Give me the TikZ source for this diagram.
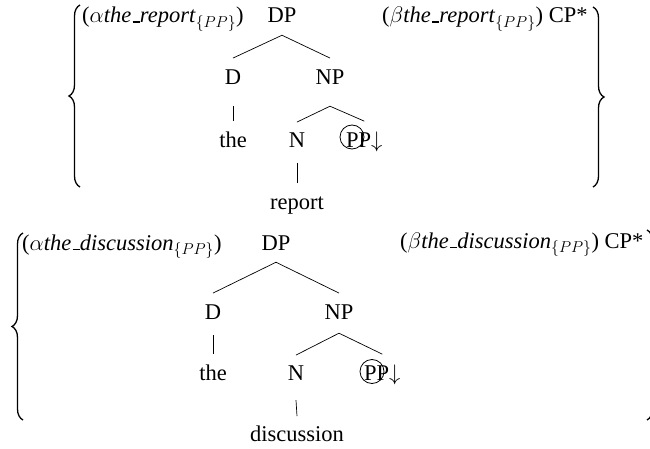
\documentclass[tikz,border=0pt]{standalone}
\usepackage{fix-cm}
\usepackage{fontspec}
\setmainfont{Liberation Serif}
\usetikzlibrary{calc,decorations.pathreplacing}
\newcommand\ubar{\kern.06em\vbox{\hrule width .32em height 1.5pt}}
\begin{document}
\begin{tikzpicture}[x=1pt,y=-1pt,
  every node/.style={inner sep=0pt,font=\fontsize{22.5}{27}\selectfont},
  lab/.style={anchor=base},
  edge/.style={line width=0.7pt},
  bracestyle/.style={line width=1.3pt,decorate,decoration={brace,amplitude=11pt,aspect=0.5}},
  pcirc/.style={draw,circle,minimum size=24pt,line width=0.8pt}]
\clip (0,0) rectangle (650,449);
% ---------- tree 1 ----------
\node[anchor=base west] (a1) at (82,23) {($\alpha$\textit{the\ubar report}$_{\{PP\}}$)};
\node[anchor=base west] (b1) at (382,23) {($\beta$\textit{the\ubar report}$_{\{PP\}}$) CP*};
\node[lab] (dp1) at (282,23) {DP};
\node[lab] (d1) at (233,85) {D};
\node[lab] (np1) at (330,85) {NP};
\node[lab] (the1) at (233,148) {the};
\node[lab] (n1) at (297,148) {N};
\node[anchor=base west] (pp1) at (346,148) {PP$\downarrow$};
\node[pcirc] (c1) at (352,137) {};
\node[lab] (rep1) at (297,209) {report};
\draw[edge] ($(dp1.south)+(0,12)$) -- ($(d1.north)+(0,-12)$);
\draw[edge] ($(dp1.south)+(0,12)$) -- ($(np1.north)+(0,-12)$);
\draw[edge] ($(d1.south)+(0,21)$) -- ($(the1.north)+(0,-11)$);
\draw[edge] ($(np1.south)+(0,21)$) -- ($(n1.north)+(0,-11)$);
\draw[edge] ($(np1.south)+(0,21)$) -- ($(pp1.north)+(0,-11)$);
\draw[edge] ($(n1.south)+(0,15)$) -- ($(rep1.north)+(0,-13)$);
\draw[bracestyle] (80,187) -- (80,5);
\draw[bracestyle] (593,7) -- (593,187);
% ---------- tree 2 ----------
\node[anchor=base west] (a2) at (22,250) {($\alpha$\textit{the\ubar discussion}$_{\{PP\}}$)};
\node[anchor=base west] (b2) at (400,248) {($\beta$\textit{the\ubar discussion}$_{\{PP\}}$) CP*};
\node[lab] (dp2) at (276,250) {DP};
\node[lab] (d2) at (213,319) {D};
\node[lab] (np2) at (339,319) {NP};
\node[lab] (the2) at (213,380) {the};
\node[lab] (n2) at (296,380) {N};
\node[anchor=base west] (pp2) at (364,380) {PP$\downarrow$};
\node[pcirc] (c2) at (372,371.5) {};
\node[lab] (dis2) at (297,441) {discussion};
\draw[edge] ($(dp2.south)+(0,12)$) -- ($(d2.north)+(0,-11)$);
\draw[edge] ($(dp2.south)+(0,12)$) -- ($(np2.north)+(0,-11)$);
\draw[edge] ($(d2.south)+(0,16)$) -- ($(the2.north)+(0,-10)$);
\draw[edge] ($(np2.south)+(0,14)$) -- ($(n2.north)+(0,-10)$);
\draw[edge] ($(np2.south)+(0,14)$) -- ($(pp2.north)+(0,-10)$);
\draw[edge] ($(n2.south)+(0,20)$) -- ($(dis2.north)+(0,-9)$);
\draw[bracestyle] (23,420) -- (23,233);
\draw[bracestyle] (647,230) -- (647,420);
\end{tikzpicture}
\end{document}
